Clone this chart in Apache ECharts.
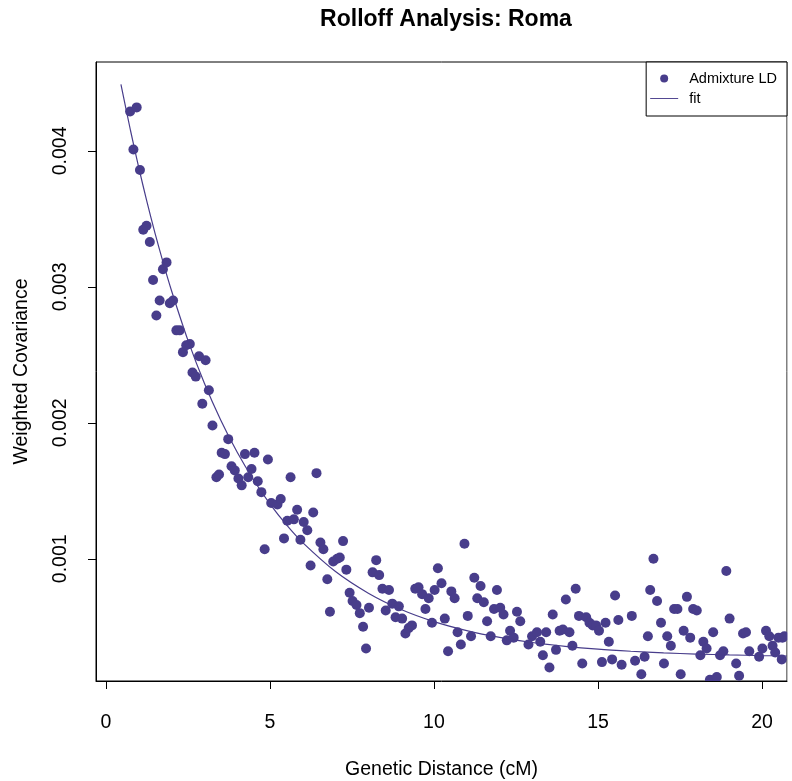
<!DOCTYPE html>
<html>
<head>
<meta charset="utf-8">
<script src="https://cdn.jsdelivr.net/npm/echarts@6/dist/echarts.min.js"></script>
<style>
  html, body { margin: 0; padding: 0; background: #fff; }
  #chart { width: 792px; height: 781px; }
</style>
</head>
<body>
<div id="chart"></div>
<script>
// admixture LD points (genetic distance in cM, weighted covariance)
var distance = [
  0.74, 0.84, 0.94, 1.04, 1.14, 1.24, 1.34, 1.44, 1.54, 1.64, 1.74, 1.85, 1.95, 2.05, 2.15, 2.25,
  2.35, 2.45, 2.56, 2.64, 2.74, 2.84, 2.94, 3.04, 3.14, 3.25, 3.37, 3.45, 3.53, 3.63, 3.73, 3.83,
  3.93, 4.04, 4.14, 4.24, 4.34, 4.44, 4.53, 4.63, 4.74, 4.84, 4.94, 5.04, 5.23, 5.33, 5.43, 5.53,
  5.63, 5.73, 5.83, 5.93, 6.03, 6.14, 6.24, 6.32, 6.42, 6.54, 6.63, 6.75, 6.83, 6.93, 7.05, 7.13,
  7.23, 7.33, 7.43, 7.52, 7.64, 7.74, 7.84, 7.93, 8.02, 8.13, 8.24, 8.33, 8.43, 8.53, 8.63, 8.73,
  8.83, 8.93, 9.03, 9.13, 9.23, 9.33, 9.43, 9.53, 9.64, 9.74, 9.84, 9.94, 10.02, 10.12, 10.23, 10.33,
  10.43, 10.53, 10.63, 10.72, 10.82, 10.93, 11.03, 11.13, 11.23, 11.32, 11.42, 11.52, 11.62, 11.73, 11.83, 11.92,
  12.02, 12.12, 12.22, 12.32, 12.43, 12.53, 12.63, 12.73, 12.80, 12.88, 12.99, 13.14, 13.24, 13.32, 13.42, 13.52,
  13.62, 13.72, 13.83, 13.93, 14.02, 14.13, 14.22, 14.32, 14.42, 14.52, 14.64, 14.74, 14.84, 14.94, 15.03, 15.12,
  15.23, 15.33, 15.43, 15.52, 15.62, 15.72, 16.03, 16.13, 16.32, 16.42, 16.52, 16.59, 16.69, 16.80, 16.92, 17.01,
  17.11, 17.22, 17.32, 17.42, 17.52, 17.61, 17.71, 17.81, 17.90, 18.01, 18.12, 18.21, 18.31, 18.41, 18.51, 18.62,
  18.72, 18.82, 18.91, 19.01, 19.21, 19.30, 19.42, 19.51, 19.61, 19.81, 19.91, 20.01, 20.12, 20.22, 20.32, 20.40,
  20.50, 20.60, 20.62, 20.68
];
var covariance = [
  0.00429, 0.00401, 0.00432, 0.00386, 0.00342, 0.00345, 0.00333, 0.00305, 0.00279, 0.00290, 0.00313, 0.00318, 0.00288, 0.00290, 0.00268, 0.00268,
  0.00252, 0.00257, 0.00258, 0.00237, 0.00234, 0.00249, 0.00214, 0.00246, 0.00224, 0.00198, 0.00160, 0.00162, 0.00178, 0.00177, 0.00188, 0.00168,
  0.00165, 0.00159, 0.00154, 0.00177, 0.00160, 0.00166, 0.00178, 0.00157, 0.00149, 0.00107, 0.00173, 0.00141, 0.00140, 0.00144, 0.00115, 0.00128,
  0.00160, 0.00129, 0.00136, 0.00114, 0.00127, 0.00121, 0.00095, 0.00134, 0.00163, 0.00112, 0.00107, 0.00085, 0.00061, 0.00098, 0.00100, 0.00101,
  0.00113, 0.00092, 0.00075, 0.00069, 0.00066, 0.00060, 0.00050, 0.00034, 0.00064, 0.00090, 0.00099, 0.00088, 0.00078, 0.00062, 0.00077, 0.00067,
  0.00057, 0.00065, 0.00056, 0.00045, 0.00049, 0.00051, 0.00078, 0.00079, 0.00074, 0.00063, 0.00071, 0.00053, 0.00077, 0.00093, 0.00082, 0.00056,
  0.00032, 0.00076, 0.00071, 0.00046, 0.00037, 0.00111, 0.00058, 0.00043, 0.00086, 0.00071, 0.00080, 0.00068, 0.00054, 0.00043, 0.00063, 0.00077,
  0.00064, 0.00059, 0.00040, 0.00047, 0.00042, 0.00061, 0.00054, 0.00010, 0.000095, 0.00037, 0.00043, 0.00046, 0.00039, 0.00029, 0.00046, 0.00020,
  0.00059, 0.00033, 0.00047, 0.00048, 0.00070, 0.00046, 0.00036, 0.00078, 0.00058, 0.00023, 0.00057, 0.00053, 0.00051, 0.00051, 0.00047, 0.00024,
  0.00053, 0.00039, 0.00026, 0.00073, 0.00055, 0.00022, 0.00058, 0.00025, 0.00015, 0.00028, 0.00043, 0.00077, 0.00100, 0.00069, 0.00053, 0.00023,
  0.00043, 0.00036, 0.00063, 0.00063, 0.00015, 0.00047, 0.00072, 0.00042, 0.00063, 0.00062, 0.00029, 0.00039, 0.00034, 0.00011, 0.00046, 0.00013,
  0.00029, 0.00032, 0.00091, 0.00056, 0.00023, 0.00014, 0.00045, 0.00046, 0.00032, 0.00010, 0.00028, 0.00034, 0.00047, 0.00043, 0.00036, 0.00031,
  0.00042, 0.00026, 0.00042, 0.00043
];

// fitted curve
var fitDistance = [0.46, 0.75, 1, 1.25, 1.5, 1.75, 2, 2.5, 3, 3.5, 4, 4.5, 5, 5.5, 6, 7, 8, 9, 10, 11, 12, 13, 14, 15, 16, 17, 18, 19, 20, 20.76];
var fitCovariance = [
  0.00449, 0.004152, 0.003881, 0.003629, 0.003394, 0.003176, 0.002973, 0.002608, 0.002293, 0.002021,
  0.001785, 0.001581, 0.001404, 0.001251, 0.001119, 0.000906, 0.000747, 0.000627, 0.000538, 0.000472,
  0.000422, 0.000384, 0.000356, 0.000335, 0.000320, 0.000308, 0.000299, 0.000293, 0.000288, 0.000285
];

var xTicks = [0, 5, 10, 15, 20];
var yTicks = [0.001, 0.002, 0.003, 0.004];

var purple = "#483D8B";
var font = "'Liberation Sans', Arial, Helvetica, sans-serif";

var points = [];
for (var i = 0; i < distance.length; i++) {
  points.push([distance[i], covariance[i]]);
}
var fitLine = [];
for (var j = 0; j < fitDistance.length; j++) {
  fitLine.push([fitDistance[j], fitCovariance[j]]);
}

var myChart = echarts.init(document.getElementById("chart"));
var option = {
  animation: false,
  backgroundColor: "#fff",
  title: {
    text: "Rolloff Analysis: Roma",
    left: 441,
    textAlign: "center",
    top: 3,
    textStyle: {
      fontFamily: font,
      fontSize: 23,
      fontWeight: "bold",
      color: "#000"
    }
  },
  legend: {
    right: 5,
    top: 62,
    orient: "vertical",
    backgroundColor: "#fff",
    borderColor: "#000",
    borderWidth: 1,
    borderRadius: 0,
    padding: [9, 10, 10, 4],
    itemWidth: 28,
    itemHeight: 8,
    itemGap: 5,
    z: 10,
    textStyle: {
      fontFamily: font,
      fontSize: 14.5,
      color: "#000",
      padding: [0, 0, 0, 6]
    },
    data: [
      { name: "Admixture LD", icon: "circle" },
      { name: "fit", icon: "path://M0,0H30V1H0Z" }
    ]
  },
  // white strips outside the box so points are cut at the border, like the original
  graphic: [
    { type: "rect", z: 4, silent: true, shape: { x: 0, y: 681.5, width: 792, height: 100 }, style: { fill: "#fff" } },
    { type: "rect", z: 4, silent: true, shape: { x: 787.5, y: 0, width: 5, height: 781 }, style: { fill: "#fff" } }
  ],
  grid: {
    left: 96,
    right: 5,
    top: 62,
    bottom: 100,
    outerBoundsMode: "none",
    show: true,
    borderColor: "#000",
    borderWidth: 1,
    backgroundColor: "transparent"
  },
  xAxis: {
    type: "value",
    z: 5,
    min: -0.3,
    max: 20.76,
    name: "Genetic Distance (cM)",
    nameLocation: "middle",
    nameGap: 79,
    nameTextStyle: { fontFamily: font, fontSize: 19.5, color: "#000" },
    splitLine: { show: false },
    axisLine: { show: true, onZero: false, lineStyle: { color: "#000", width: 1 } },
    axisTick: { show: true, customValues: xTicks, length: 8, lineStyle: { color: "#000" } },
    axisLabel: {
      customValues: xTicks,
      margin: 32,
      fontFamily: font,
      fontSize: 19.5,
      color: "#000"
    }
  },
  yAxis: {
    type: "value",
    z: 5,
    min: 0.000101,
    max: 0.004654,
    name: "Weighted Covariance",
    nameLocation: "middle",
    nameGap: 64,
    nameTextStyle: { fontFamily: font, fontSize: 19.5, color: "#000" },
    splitLine: { show: false },
    axisLine: { show: true, onZero: false, lineStyle: { color: "#000", width: 1 } },
    axisTick: { show: true, customValues: yTicks, length: 8, lineStyle: { color: "#000" } },
    axisLabel: {
      customValues: yTicks,
      rotate: 90,
      margin: 25,
      fontFamily: font,
      fontSize: 19.5,
      color: "#000",
      formatter: function (v) { return v.toFixed(3); }
    }
  },
  series: [
    {
      name: "Admixture LD",
      type: "scatter",
      data: points,
      symbol: "circle",
      symbolSize: 10,
      itemStyle: { color: purple, opacity: 1 },
      clip: true
    },
    {
      name: "fit",
      type: "line",
      data: fitLine,
      smooth: 0.3,
      showSymbol: false,
      symbol: "none",
      lineStyle: { color: purple, width: 1.2 },
      itemStyle: { color: purple },
      clip: true
    }
  ]
};
myChart.setOption(option, true);
</script>
</body>
</html>
